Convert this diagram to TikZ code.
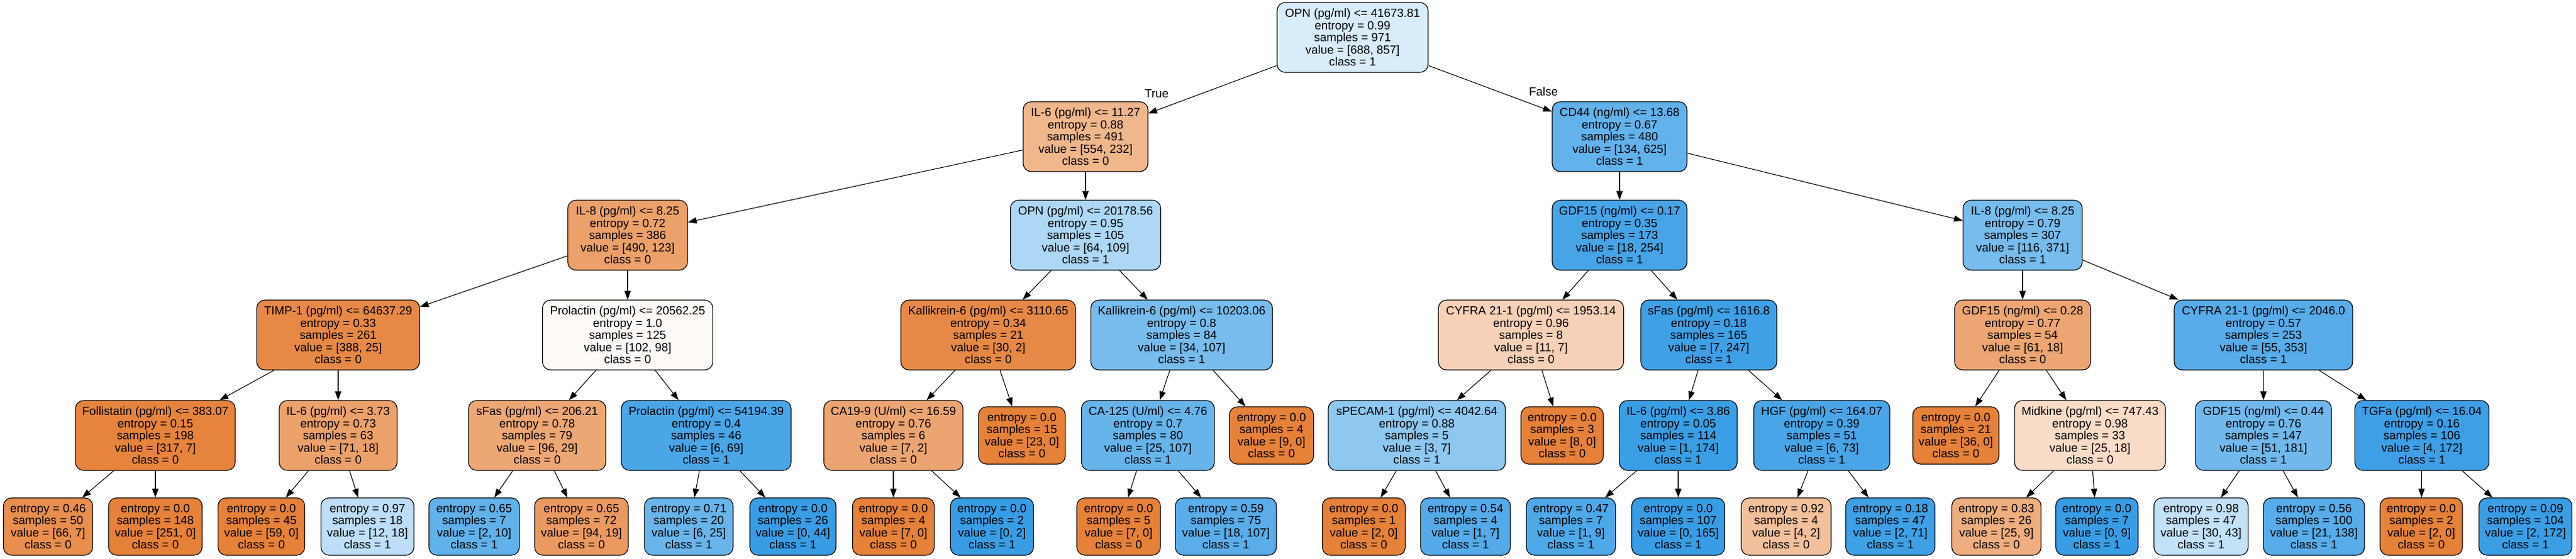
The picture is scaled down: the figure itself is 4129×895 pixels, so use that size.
\documentclass[tikz,border=0pt]{standalone}
\usepackage{fontspec}
\setmainfont{Liberation Sans}
\usetikzlibrary{arrows.meta}
\definecolor{cA}{HTML}{E58139}
\definecolor{cB}{HTML}{399DE5}
\tikzset{
  basebox/.style={draw=black, line width=1.2pt, rounded corners=13pt, inner sep=0pt, align=center,
    font=\fontsize{18.9}{19.6}\selectfont},
  tnode/.style={basebox, minimum height=112pt},
  lnode/.style={basebox, minimum height=92pt},
  arr/.style={draw=black, line width=1.1pt, -{Triangle[length=14pt,width=10pt]}},
  elabel/.style={font=\fontsize{18.9}{19.6}\selectfont, inner sep=0pt}
}
% name, cx, cy, width, fill, text
\newcommand\IN[6]{\node[tnode, minimum width=#4pt, fill=#5] (#1) at (#2,-#3) {#6};}
\newcommand\LF[6]{\node[lnode, minimum width=#4pt, fill=#5] (#1) at (#2,-#3) {#6};}
\begin{document}
\begin{tikzpicture}[x=1pt,y=1pt]
\useasboundingbox (0,0) rectangle (4129,-895);
% level 0
\IN{n0}{2168}{60}{242}{cB!19.7!white}{OPN (pg/ml) <= 41673.81\\entropy = 0.99\\samples = 971\\value = [688, 857]\\class = 1}
% level 1
\IN{n1}{1740}{219}{200}{cA!58.1!white}{IL-6 (pg/ml) <= 11.27\\entropy = 0.88\\samples = 491\\value = [554, 232]\\class = 0}
\IN{n2}{2596}{219}{216}{cB!78.6!white}{CD44 (ng/ml) <= 13.68\\entropy = 0.67\\samples = 480\\value = [134, 625]\\class = 1}
% level 2
\IN{n3}{1006}{377}{192}{cA!74.9!white}{IL-8 (pg/ml) <= 8.25\\entropy = 0.72\\samples = 386\\value = [490, 123]\\class = 0}
\IN{n4}{1740}{377}{241}{cB!41.3!white}{OPN (pg/ml) <= 20178.56\\entropy = 0.95\\samples = 105\\value = [64, 109]\\class = 1}
\IN{n5}{2596}{377}{216}{cB!92.9!white}{GDF15 (ng/ml) <= 0.17\\entropy = 0.35\\samples = 173\\value = [18, 254]\\class = 1}
\IN{n6}{3242}{377}{191}{cB!68.7!white}{IL-8 (pg/ml) <= 8.25\\entropy = 0.79\\samples = 307\\value = [116, 371]\\class = 1}
% level 3
\IN{n7}{542}{537}{261}{cA!93.6!white}{TIMP-1 (pg/ml) <= 64637.29\\entropy = 0.33\\samples = 261\\value = [388, 25]\\class = 0}
\IN{n8}{1006}{537}{273}{cA!3.9!white}{Prolactin (pg/ml) <= 20562.25\\entropy = 1.0\\samples = 125\\value = [102, 98]\\class = 0}
\IN{n9}{1584}{537}{280}{cA!93.3!white}{Kallikrein-6 (pg/ml) <= 3110.65\\entropy = 0.34\\samples = 21\\value = [30, 2]\\class = 0}
\IN{n10}{1894}{537}{291}{cB!68.2!white}{Kallikrein-6 (pg/ml) <= 10203.06\\entropy = 0.8\\samples = 84\\value = [34, 107]\\class = 1}
\IN{n11}{2454}{537}{297}{cA!36.4!white}{CYFRA 21-1 (pg/ml) <= 1953.14\\entropy = 0.96\\samples = 8\\value = [11, 7]\\class = 0}
\IN{n12}{2739}{537}{218}{cB!97.2!white}{sFas (pg/ml) <= 1616.8\\entropy = 0.18\\samples = 165\\value = [7, 247]\\class = 1}
\IN{n13}{3242}{537}{218}{cA!70.5!white}{GDF15 (ng/ml) <= 0.28\\entropy = 0.77\\samples = 54\\value = [61, 18]\\class = 0}
\IN{n14}{3628}{537}{286}{cB!84.4!white}{CYFRA 21-1 (pg/ml) <= 2046.0\\entropy = 0.57\\samples = 253\\value = [55, 353]\\class = 1}
% level 4
\IN{n15}{249}{698}{256}{cA!97.8!white}{Follistatin (pg/ml) <= 383.07\\entropy = 0.15\\samples = 198\\value = [317, 7]\\class = 0}
\IN{n16}{542}{698}{189}{cA!74.6!white}{IL-6 (pg/ml) <= 3.73\\entropy = 0.73\\samples = 63\\value = [71, 18]\\class = 0}
\IN{n17}{861}{698}{220}{cA!69.8!white}{sFas (pg/ml) <= 206.21\\entropy = 0.78\\samples = 79\\value = [96, 29]\\class = 0}
\IN{n18}{1132}{698}{272}{cB!91.3!white}{Prolactin (pg/ml) <= 54194.39\\entropy = 0.4\\samples = 46\\value = [6, 69]\\class = 1}
\IN{n19}{1432}{698}{223}{cA!71.4!white}{CA19-9 (U/ml) <= 16.59\\entropy = 0.76\\samples = 6\\value = [7, 2]\\class = 0}
\LF{n20}{1638}{698}{139}{cA}{entropy = 0.0\\samples = 15\\value = [23, 0]\\class = 0}
\IN{n21}{1840}{698}{213}{cB!76.6!white}{CA-125 (U/ml) <= 4.76\\entropy = 0.7\\samples = 80\\value = [25, 107]\\class = 1}
\LF{n22}{2038}{698}{135}{cA}{entropy = 0.0\\samples = 4\\value = [9, 0]\\class = 0}
\IN{n23}{2271}{698}{284}{cB!57.1!white}{sPECAM-1 (pg/ml) <= 4042.64\\entropy = 0.88\\samples = 5\\value = [3, 7]\\class = 1}
\LF{n24}{2504}{698}{132}{cA}{entropy = 0.0\\samples = 3\\value = [8, 0]\\class = 0}
\IN{n25}{2690}{698}{189}{cB!99.4!white}{IL-6 (pg/ml) <= 3.86\\entropy = 0.05\\samples = 114\\value = [1, 174]\\class = 1}
\IN{n26}{2920}{698}{218}{cB!91.8!white}{HGF (pg/ml) <= 164.07\\entropy = 0.39\\samples = 51\\value = [6, 73]\\class = 1}
\LF{n27}{3135}{698}{138}{cA}{entropy = 0.0\\samples = 21\\value = [36, 0]\\class = 0}
\IN{n28}{3350}{698}{242}{cA!28!white}{Midkine (pg/ml) <= 747.43\\entropy = 0.98\\samples = 33\\value = [25, 18]\\class = 0}
\IN{n29}{3628}{698}{218}{cB!71.8!white}{GDF15 (ng/ml) <= 0.44\\entropy = 0.76\\samples = 147\\value = [51, 181]\\class = 1}
\IN{n30}{3882}{698}{215}{cB!97.7!white}{TGFa (pg/ml) <= 16.04\\entropy = 0.16\\samples = 106\\value = [4, 172]\\class = 1}
% level 5
\LF{l1}{77}{844}{143}{cA!89.4!white}{entropy = 0.46\\samples = 50\\value = [66, 7]\\class = 0}
\LF{l2}{249}{844}{150}{cA}{entropy = 0.0\\samples = 148\\value = [251, 0]\\class = 0}
\LF{l3}{419}{844}{139}{cA}{entropy = 0.0\\samples = 45\\value = [59, 0]\\class = 0}
\LF{l4}{589}{844}{149}{cB!33.3!white}{entropy = 0.97\\samples = 18\\value = [12, 18]\\class = 1}
\LF{l5}{760}{844}{145}{cB!80!white}{entropy = 0.65\\samples = 7\\value = [2, 10]\\class = 1}
\LF{l6}{932}{844}{150}{cA!79.8!white}{entropy = 0.65\\samples = 72\\value = [94, 19]\\class = 0}
\LF{l7}{1104}{844}{142}{cB!76!white}{entropy = 0.71\\samples = 20\\value = [6, 25]\\class = 1}
\LF{l8}{1271}{844}{138}{cB}{entropy = 0.0\\samples = 26\\value = [0, 44]\\class = 1}
\LF{l9}{1432}{844}{131}{cA}{entropy = 0.0\\samples = 4\\value = [7, 0]\\class = 0}
\LF{l10}{1590}{844}{133}{cB}{entropy = 0.0\\samples = 2\\value = [0, 2]\\class = 1}
\LF{l11}{1793}{844}{134}{cA}{entropy = 0.0\\samples = 5\\value = [7, 0]\\class = 0}
\LF{l12}{1965}{844}{162}{cB!83.2!white}{entropy = 0.59\\samples = 75\\value = [18, 107]\\class = 1}
\LF{l13}{2186}{844}{133}{cA}{entropy = 0.0\\samples = 1\\value = [2, 0]\\class = 0}
\LF{l14}{2349}{844}{144}{cB!85.7!white}{entropy = 0.54\\samples = 4\\value = [1, 7]\\class = 1}
\LF{l15}{2518}{844}{143}{cB!88.9!white}{entropy = 0.47\\samples = 7\\value = [1, 9]\\class = 1}
\LF{l16}{2690}{844}{149}{cB}{entropy = 0.0\\samples = 107\\value = [0, 165]\\class = 1}
\LF{l17}{2863}{844}{144}{cA!50!white}{entropy = 0.92\\samples = 4\\value = [4, 2]\\class = 0}
\LF{l18}{3030}{844}{143}{cB!97.2!white}{entropy = 0.18\\samples = 47\\value = [2, 71]\\class = 1}
\LF{l19}{3200}{844}{143}{cA!64!white}{entropy = 0.83\\samples = 26\\value = [25, 9]\\class = 0}
\LF{l20}{3361}{844}{132}{cB}{entropy = 0.0\\samples = 7\\value = [0, 9]\\class = 1}
\LF{l21}{3528}{844}{151}{cB!30.2!white}{entropy = 0.98\\samples = 47\\value = [30, 43]\\class = 1}
\LF{l22}{3709}{844}{162}{cB!84.8!white}{entropy = 0.56\\samples = 100\\value = [21, 138]\\class = 1}
\LF{l23}{3881}{844}{132}{cA}{entropy = 0.0\\samples = 2\\value = [2, 0]\\class = 0}
\LF{l24}{4048}{844}{149}{cB!98.8!white}{entropy = 0.09\\samples = 104\\value = [2, 172]\\class = 1}
% edge labels
\node[elabel] (tlab) at (1854,-150) {True};
\node[elabel] (flab) at (2474,-147) {False};
% edges
\foreach \p/\c in {n0/n1,n0/n2,n1/n3,n1/n4,n2/n5,n2/n6,n3/n7,n3/n8,n4/n9,n4/n10,n5/n11,n5/n12,n6/n13,n6/n14,
  n7/n15,n7/n16,n8/n17,n8/n18,n9/n19,n9/n20,n10/n21,n10/n22,n11/n23,n11/n24,n12/n25,n12/n26,n13/n27,n13/n28,n14/n29,n14/n30,
  n15/l1,n15/l2,n16/l3,n16/l4,n17/l5,n17/l6,n18/l7,n18/l8,n19/l9,n19/l10,n21/l11,n21/l12,n23/l13,n23/l14,
  n25/l15,n25/l16,n26/l17,n26/l18,n28/l19,n28/l20,n29/l21,n29/l22,n30/l23,n30/l24}
  {\draw[arr] (\p) -- (\c);}
\end{tikzpicture}
\end{document}
